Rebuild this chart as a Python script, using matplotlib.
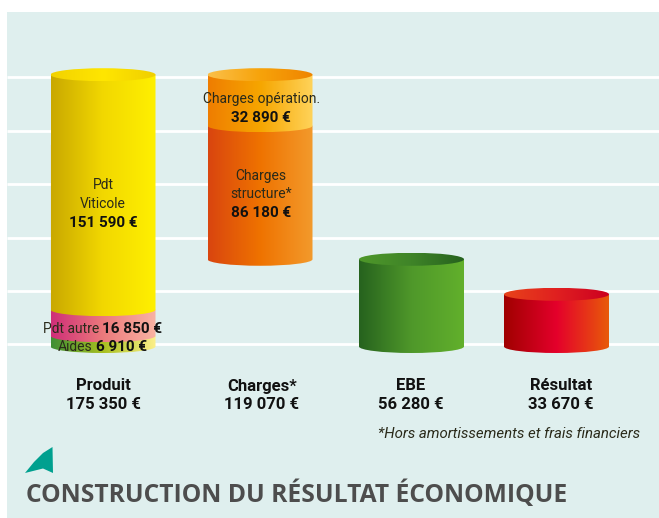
"""Construction du resultat economique: cylinder waterfall."""

import matplotlib
matplotlib.use("Agg")
import matplotlib.pyplot as plt
import numpy as np
from matplotlib.colors import LinearSegmentedColormap
from matplotlib.patches import Ellipse, PathPatch, Polygon, Rectangle
from matplotlib.path import Path

# === Data ===
CATEGORIES = ["Produit", "Charges*", "EBE", "Résultat"]
TOTALS = ["175 350 €", "119 070 €", "56 280 €", "33 670 €"]

PRODUIT_VALUES = [6910, 16850, 151590]
CHARGES_VALUES = [86180, 32890]
EBE_VALUES = [56280]
RESULTAT_VALUES = [33670]
CHARGES_START = 56280

FOOTNOTE = "*Hors amortissements et frais financiers"
TITLE = "CONSTRUCTION DU RÉSULTAT ÉCONOMIQUE"

# === Style ===
W, H = 659, 518
BASELINE_PX = 346.5
PX_PER_EURO = 1.55 / 1000
CENTERS = [103, 260, 411.5, 556.5]
LABEL_X = [103, 262, 411, 561]
HALF_W = 52.5
CAP_H = 6.5
GRID_PX = [77, 131, 184, 238, 291, 344]
BG = "#dfefee"

FONT = "Roboto"

PRODUIT_COLORS = [["#3f8f35", "#a8c020", "#fdf08a"],
                  ["#cf2e78", "#ec7a7c", "#f9b3a3"],
                  ["#c9a800", "#f2d800", "#fff000"]]
PRODUIT_CAP = ["#f2d200", "#ffe600", "#f0cf00"]
CHARGES_COLORS = [["#d9450f", "#ef7300", "#f39a2c"],
                  ["#ef7d00", "#f6a600", "#ffd35a"]]
CHARGES_CAP = ["#fbc04a", "#f7a30a", "#ef8400"]
EBE_COLORS = [["#26621e", "#4f982a", "#62b02c"]]
EBE_CAP = ["#4f982a", "#3f8428", "#26621e"]
RESULTAT_COLORS = [["#a00000", "#e4002b", "#e85a0a"]]
RESULTAT_CAP = ["#e8431a", "#e02020", "#cc0020"]


def euro_to_px(v):
    return BASELINE_PX - v * PX_PER_EURO


def gradient_fill(ax, cx, top, bottom, colors, clip):
    cmap = LinearSegmentedColormap.from_list("g", colors)
    grad = np.linspace(0, 1, 256).reshape(1, -1)
    im = ax.imshow(grad, cmap=cmap, aspect="auto", zorder=3,
                   extent=(cx - HALF_W, cx + HALF_W, bottom, top))
    im.set_clip_path(clip)


def body_path(cx, y_top, y_bot):
    """Rectangle with a rounded (front of the cylinder) lower edge."""
    k = 0.5523
    verts = [(cx - HALF_W, y_top), (cx + HALF_W, y_top), (cx + HALF_W, y_bot),
             (cx + HALF_W, y_bot + k * CAP_H), (cx + k * HALF_W, y_bot + CAP_H), (cx, y_bot + CAP_H),
             (cx - k * HALF_W, y_bot + CAP_H), (cx - HALF_W, y_bot + k * CAP_H), (cx - HALF_W, y_bot),
             (cx - HALF_W, y_top)]
    codes = [Path.MOVETO, Path.LINETO, Path.LINETO,
             Path.CURVE4, Path.CURVE4, Path.CURVE4,
             Path.CURVE4, Path.CURVE4, Path.CURVE4,
             Path.CLOSEPOLY]
    return Path(verts, codes)


def draw_cylinder(ax, cx, start, values, colors, cap_colors):
    level = start
    for value, cols in zip(values, colors):
        y_bot = euro_to_px(level)
        y_top = euro_to_px(level + value)
        patch = PathPatch(body_path(cx, y_top, y_bot), fc="none", ec="none", transform=ax.transData)
        ax.add_patch(patch)
        gradient_fill(ax, cx, y_top, y_bot + CAP_H, cols, patch)
        level += value
    cap = Ellipse((cx, euro_to_px(level)), 2 * HALF_W, 2 * CAP_H, fc="none", ec="none")
    ax.add_patch(cap)
    cmap = LinearSegmentedColormap.from_list("c", cap_colors)
    im = ax.imshow(np.linspace(0, 1, 256).reshape(1, -1), cmap=cmap, aspect="auto", zorder=3.5,
                   extent=(cx - HALF_W, cx + HALF_W, euro_to_px(level) + CAP_H, euro_to_px(level) - CAP_H))
    im.set_clip_path(cap)


def label(ax, x, y, txt, size=10, ha="center"):
    ax.text(x, y, txt, ha=ha, va="center", fontsize=size, color="#2a2a1a",
            family=FONT, zorder=5)


def bold(ax, x, y, txt, size=11, ha="center"):
    ax.text(x, y, txt, ha=ha, va="center", fontsize=size, color="#111111",
            family=FONT, fontweight="bold", zorder=5)


def main():
    fig = plt.figure(figsize=(W / 100, H / 100), dpi=100, facecolor="white")
    ax = fig.add_axes([0, 0, 1, 1])
    ax.set_axis_off()

    ax.add_patch(Rectangle((7, 12), W - 7, H - 12, fc=BG, ec="none", zorder=0))
    for gy in GRID_PX:
        ax.plot([7, W], [gy, gy], color="white", lw=2, zorder=1, solid_capstyle="butt")

    draw_cylinder(ax, CENTERS[0], 0, PRODUIT_VALUES, PRODUIT_COLORS, PRODUIT_CAP)
    draw_cylinder(ax, CENTERS[1], CHARGES_START, CHARGES_VALUES, CHARGES_COLORS, CHARGES_CAP)
    draw_cylinder(ax, CENTERS[2], 0, EBE_VALUES, EBE_COLORS, EBE_CAP)
    draw_cylinder(ax, CENTERS[3], 0, RESULTAT_VALUES, RESULTAT_COLORS, RESULTAT_CAP)

    # Thin orange edge left of the yellow segment
    ax.plot([50.5, 50.5], [145, 320], color="#e8902a", lw=0.8, zorder=2.5)

    # Labels on the bars
    label(ax, 103, 185, "Pdt")
    label(ax, 103, 204, "Viticole")
    bold(ax, 103, 223, "151 590 €")
    label(ax, 43, 329, "Pdt autre", ha="left")
    bold(ax, 102, 329, "16 850 €", ha="left")
    label(ax, 58, 347, "Aides", ha="left")
    bold(ax, 96, 347, "6 910 €", ha="left")
    label(ax, 262, 99, "Charges opération.")
    bold(ax, 261, 118, "32 890 €")
    label(ax, 261, 176, "Charges")
    label(ax, 261, 194, "structure*")
    bold(ax, 261, 213, "86 180 €")

    # Category labels under the bars
    for x, name, total in zip(LABEL_X, CATEGORIES, TOTALS):
        bold(ax, x, 386, name, size=12)
        bold(ax, x, 404.5, total, size=12)

    ax.text(640.5, 434.5, FOOTNOTE, ha="right", va="center", fontsize=10.8, style="italic",
            color="#2a2a1a", family=FONT)

    # Corner mark and title
    ax.add_patch(Polygon([(25, 473), (34, 462), (43, 453), (52.5, 447), (53, 473), (43, 468.5)],
                         fc="#00a08f", ec="none", zorder=2))
    ax.text(26, 494, TITLE, ha="left", va="center", fontsize=17.75, fontweight="bold",
            color="#4d4d4d", family="Open Sans")

    ax.set_xlim(0, W)
    ax.set_ylim(H, 0)
    fig.savefig("out.png", dpi=100)


if __name__ == "__main__":
    main()
